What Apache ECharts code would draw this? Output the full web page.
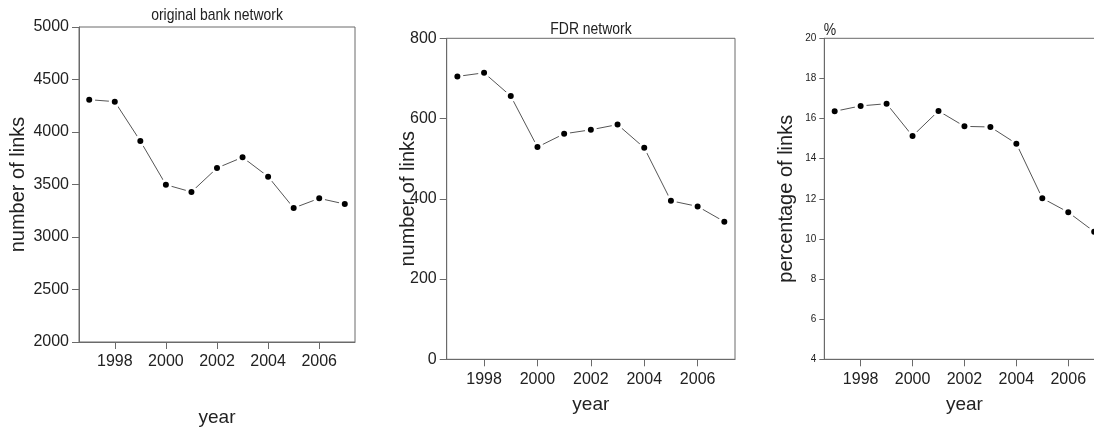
<!DOCTYPE html>
<html><head><meta charset="utf-8">
<script src="https://cdn.jsdelivr.net/npm/echarts@6/dist/echarts.min.js"></script>
<style>html,body{margin:0;padding:0;background:#fff}#c{width:1094px;height:430px}</style>
</head><body><div id="c"></div>
<script>
const years = [1997,1998,1999,2000,2001,2002,2003,2004,2005,2006,2007];
const bankLinks = [4308,4289,3914,3498,3429,3657,3759,3575,3276,3368,3314];
const fdrLinks = [705,714,656,529,562,572,585,527,395,381,343];
const fdrPercent = [16.36,16.63,16.74,15.13,16.38,15.61,15.58,14.75,12.03,11.33,10.36];
const xTicks = [1998,2000,2002,2004,2006];
const titles = ['original bank network','FDR network','%'];

const REG = '"Liberation Sans", Arial, sans-serif';
const axisGray = '#6a6a6a';

const grids = [
  {left: 79, top: 27, width: 276, height: 315},
  {left: 446.7, top: 38.3, width: 288.3, height: 321},
  {left: 824.3, top: 38.3, width: 280.3, height: 321}
];
const yCfg = [
  {min: 2000, max: 5000, interval: 500, name: 'number of links', size: 16},
  {min: 0, max: 800, interval: 200, name: 'number of links', size: 16},
  {min: 4, max: 20, interval: 2, name: 'percentage of links', size: 10}
];
const yNameGap = [51, 28.7, 27.6];
const xNameGap = [66, 36, 36];
const data = [bankLinks, fdrLinks, fdrPercent];

const option = {
  animation: false,
  grid: grids.map(g => Object.assign({show: true, borderColor: axisGray, borderWidth: 1, backgroundColor: 'transparent', containLabel: false, outerBoundsMode: 'none'}, g)),
  xAxis: grids.map((g, i) => ({
    type: 'value', gridIndex: i, min: 1996.6, max: 2007.4,
    name: 'year', nameLocation: 'middle', nameGap: xNameGap[i], nameMoveOverlap: false,
    nameTextStyle: {fontFamily: REG, fontSize: 19, color: '#222'},
    axisLine: {show: true, lineStyle: {color: axisGray, width: 1}},
    axisTick: {show: true, length: 7, customValues: xTicks, lineStyle: {color: axisGray}},
    axisLabel: {customValues: xTicks, margin: 12, fontFamily: REG, fontSize: 16, color: '#222', formatter: v => String(v)},
    splitLine: {show: false}
  })),
  yAxis: yCfg.map((y, i) => ({
    type: 'value', gridIndex: i, min: y.min, max: y.max, interval: y.interval,
    name: y.name, nameLocation: 'middle', nameGap: yNameGap[i], nameRotate: 90, nameMoveOverlap: false,
    nameTextStyle: {fontFamily: REG, fontSize: 20, color: '#222'},
    axisLine: {show: true, lineStyle: {color: axisGray, width: 1}},
    axisTick: {show: true, length: i === 2 ? 5 : 7, lineStyle: {color: axisGray}},
    axisLabel: {margin: i === 2 ? 8 : 10, fontFamily: REG, fontSize: y.size, color: '#222', formatter: v => String(v)},
    splitLine: {show: false}
  })),
  series: data.map((d, i) => ({
    type: 'line', xAxisIndex: i, yAxisIndex: i,
    data: years.map((yr, k) => [yr, d[k]]),
    symbol: 'circle', symbolSize: 9,
    itemStyle: {color: '#000', borderColor: '#fff', borderWidth: 3},
    lineStyle: {color: '#555', width: 1},
    silent: true
  })),
  graphic: [
    {type: 'text', x: 217, y: 15, scaleX: 0.82, style: {text: titles[0], font: '17px ' + REG, fill: '#222', textAlign: 'center', textVerticalAlign: 'middle'}},
    {type: 'text', x: 591, y: 29, scaleX: 0.82, style: {text: titles[1], font: '17px ' + REG, fill: '#222', textAlign: 'center', textVerticalAlign: 'middle'}},
    {type: 'text', x: 830, y: 30, scaleX: 0.82, style: {text: titles[2], font: '17px ' + REG, fill: '#222', textAlign: 'center', textVerticalAlign: 'middle'}}
  ]
};
const chart = echarts.init(document.getElementById('c'), null, {renderer: 'canvas'});
chart.setOption(option);
</script></body></html>
